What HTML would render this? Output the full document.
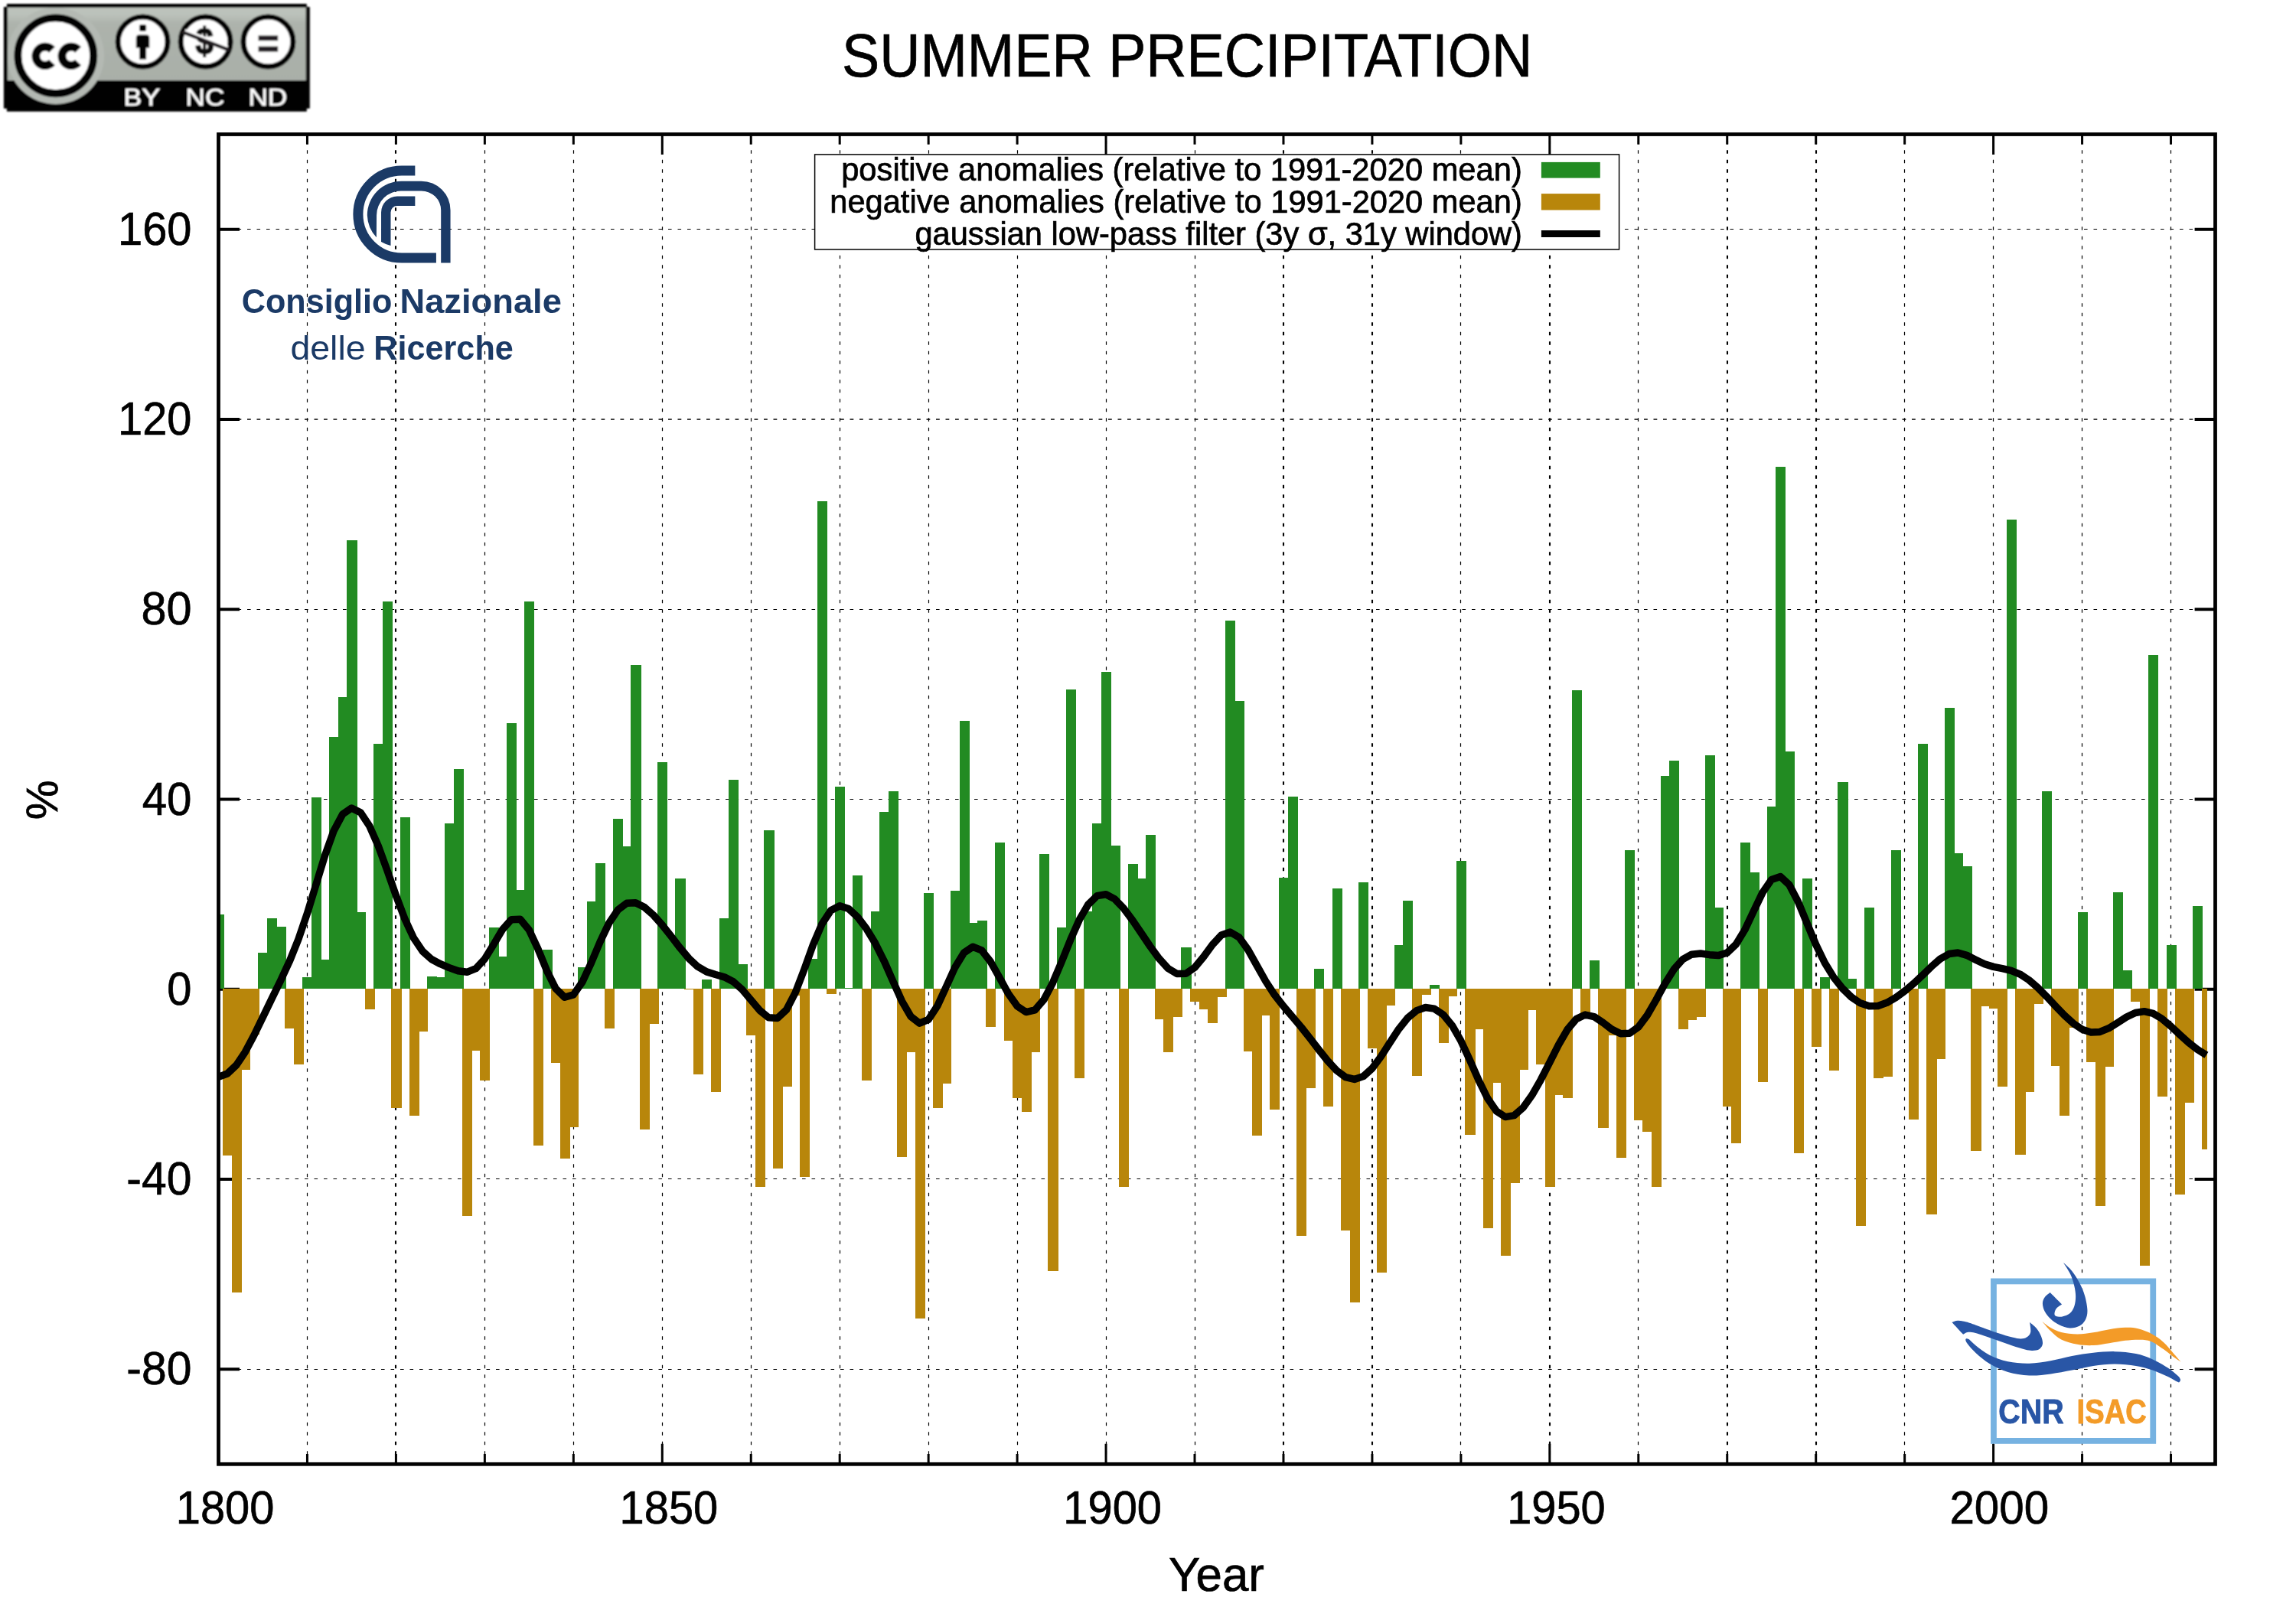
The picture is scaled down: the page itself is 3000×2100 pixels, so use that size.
<!DOCTYPE html>
<html><head><meta charset="utf-8"><title>Summer precipitation</title>
<style>
html,body{margin:0;padding:0;background:#fff;}
body{width:3000px;height:2100px;overflow:hidden;font-family:"Liberation Sans",sans-serif;}
svg{display:block;}
</style></head><body>
<svg width="3000" height="2100" viewBox="0 0 3000 2100">
<rect width="3000" height="2100" fill="#fff"/>
<g opacity="0.998">
<path d="M401.5 1913.3V175.5M633.5 1913.3V175.5M749.5 1913.3V175.5M865.5 1913.3V175.5M981.5 1913.3V175.5M1097.5 1913.3V175.5M1213.5 1913.3V175.5M1329.5 1913.3V175.5M1445.5 1913.3V175.5M1561.5 1913.3V175.5M1908.5 1913.3V175.5M2140.5 1913.3V175.5M2488.5 1913.3V175.5M2604.5 1913.3V175.5M2720.5 1913.3V175.5M2836.5 1913.3V175.5" stroke="#000" stroke-width="1.2" stroke-dasharray="4.5 8" fill="none"/>
<path d="M517 1913.3V175.5M1677 1913.3V175.5M1793 1913.3V175.5M2025 1913.3V175.5M2257 1913.3V175.5M2373 1913.3V175.5" stroke="#000" stroke-width="2.1" stroke-dasharray="4.5 8" fill="none"/>
<path d="M285.5 1789.5H2894.5M285.5 1540.5H2894.5M285.5 1044.5H2894.5M285.5 796.5H2894.5M285.5 299.5H2894.5" stroke="#000" stroke-width="1.1" stroke-dasharray="4.6 7.9" fill="none"/>
<path d="M285.5 548H2894.5" stroke="#000" stroke-width="1.7" stroke-dasharray="4.8 7.7" fill="none"/>
<path d="M285.5 1913.3v-26.6M285.5 175.5v26.6M401.46 1913.3v-13.2M401.46 175.5v13.2M517.41 1913.3v-13.2M517.41 175.5v13.2M633.37 1913.3v-13.2M633.37 175.5v13.2M749.32 1913.3v-13.2M749.32 175.5v13.2M865.28 1913.3v-26.6M865.28 175.5v26.6M981.23 1913.3v-13.2M981.23 175.5v13.2M1097.19 1913.3v-13.2M1097.19 175.5v13.2M1213.14 1913.3v-13.2M1213.14 175.5v13.2M1329.1 1913.3v-13.2M1329.1 175.5v13.2M1445.06 1913.3v-26.6M1445.06 175.5v26.6M1561.01 1913.3v-13.2M1561.01 175.5v13.2M1676.97 1913.3v-13.2M1676.97 175.5v13.2M1792.92 1913.3v-13.2M1792.92 175.5v13.2M1908.88 1913.3v-13.2M1908.88 175.5v13.2M2024.83 1913.3v-26.6M2024.83 175.5v26.6M2140.79 1913.3v-13.2M2140.79 175.5v13.2M2256.74 1913.3v-13.2M2256.74 175.5v13.2M2372.7 1913.3v-13.2M2372.7 175.5v13.2M2488.66 1913.3v-13.2M2488.66 175.5v13.2M2604.61 1913.3v-26.6M2604.61 175.5v26.6M2720.57 1913.3v-13.2M2720.57 175.5v13.2M2836.52 1913.3v-13.2M2836.52 175.5v13.2" stroke="#000" stroke-width="3" fill="none"/>
<path d="M285.5 1789.17h27.5M2894.5 1789.17h-26.9M285.5 1540.91h27.5M2894.5 1540.91h-26.9M285.5 1292.66h27.5M2894.5 1292.66h-26.9M285.5 1044.4h27.5M2894.5 1044.4h-26.9M285.5 796.14h27.5M2894.5 796.14h-26.9M285.5 547.89h27.5M2894.5 547.89h-26.9M285.5 299.63h27.5M2894.5 299.63h-26.9" stroke="#000" stroke-width="4" fill="none"/>
<g transform="translate(440 200) scale(0.09956)" fill="#1B3A66">
<path d="M1028 231.5H853A572.75 572.75 0 0 0 853 1377H1305" fill="none" stroke="#1B3A66" stroke-width="131"/>
<path d="M1492 1442V750A382 382 0 0 0 1110 368H849A449 449 0 0 0 400 817A449 449 0 0 0 521 1108L523 817A320 320 0 0 1 849 497H1110A258 253 0 0 1 1368 750V1442z"/>
<path d="M1028 568H793A210 210 0 0 0 583 778V1165A443 443 0 0 0 708 1215V778A85 85 0 0 1 793 693H1028z"/>
</g>
<text transform="translate(315.87 409) scale(0.9719 1)" font-family="'Liberation Sans', sans-serif" font-size="44.4" font-weight="bold" fill="#1B3A66" >Consiglio</text>
<text transform="translate(522.46 409) scale(1.0203 1)" font-family="'Liberation Sans', sans-serif" font-size="44.4" font-weight="bold" fill="#1B3A66" >Nazionale</text>
<text transform="translate(379.44 470.1) scale(1.0466 1)" font-family="'Liberation Sans', sans-serif" font-size="44.4" fill="#1B3A66" >delle</text>
<text transform="translate(488.29 470.1) scale(0.9735 1)" font-family="'Liberation Sans', sans-serif" font-size="44.4" font-weight="bold" fill="#1B3A66" >Ricerche</text>
<rect x="2604.95" y="1674.4" width="208.3" height="208.5" fill="none" stroke="#76B2E1" stroke-width="7.8"/>
<g transform="translate(2540 1640) scale(0.13937)">
<path d="M1120 72C1133.33 85 1175 118.67 1200 150C1225 181.33 1250 221.67 1270 260C1290 298.33 1307.5 336.67 1320 380C1332.5 423.33 1344.17 481.67 1345 520C1345.83 558.33 1337.5 585.83 1325 610C1312.5 634.17 1294.17 652.5 1270 665C1245.83 677.5 1211.67 686.67 1180 685C1148.33 683.33 1110 669.17 1080 655C1050 640.83 1022.5 620.83 1000 600C977.5 579.17 957.5 555 945 530C932.5 505 924.17 473.33 925 450C925.83 426.67 938.33 406.33 950 390C961.67 373.67 987.5 358.33 995 352C1013.33 370.33 1086.67 443.67 1105 462C1096.67 468.33 1066.33 486.17 1055 500C1043.67 513.83 1038.17 533 1037 545C1035.83 557 1035.83 566.5 1048 572C1060.17 577.5 1088 582 1110 578C1132 574 1161.33 564.33 1180 548C1198.67 531.67 1212.83 506.33 1222 480C1231.17 453.67 1235 421.67 1235 390C1235 358.33 1230.33 325 1222 290C1213.67 255 1202 216.33 1185 180C1168 143.67 1130.83 90 1120 72z" fill="#2956A6"/>
<path d="M75 632C84.17 629.33 107.5 616.67 130 616C152.5 615.33 181.67 621 210 628C238.33 635 251.67 641 300 658C348.33 675 443.33 711 500 730C556.67 749 603.33 762.67 640 772C676.67 781.33 697.5 786 720 786C742.5 786 759.67 782.17 775 772C790.33 761.83 807 748.33 812 725C817 701.67 806.17 647.5 805 632C815.83 641.67 852.17 667.83 870 690C887.83 712.17 902.83 740.83 912 765C921.17 789.17 927.83 815.5 925 835C922.17 854.5 910.83 871.83 895 882C879.17 892.17 852.5 895.33 830 896C807.5 896.67 791.67 893.67 760 886C728.33 878.33 683.33 864.33 640 850C596.67 835.67 543.33 815.33 500 800C456.67 784.67 415 769.67 380 758C345 746.33 316.67 735.67 290 730C263.33 724.33 238.33 721.5 220 724C201.67 726.5 186.67 741.5 180 745C162.5 726.17 92.5 650.83 75 632z" fill="#2956A6"/>
<path d="M203 792C204.67 784.5 215.83 780.33 232 790C248.17 799.67 267 825 300 850C333 875 380 915 430 940C480 965 538.33 987.17 600 1000C661.67 1012.83 733.33 1018.33 800 1017C866.67 1015.67 933.33 1003.67 1000 992C1066.67 980.33 1133.33 959.5 1200 947C1266.67 934.5 1333.33 924 1400 917C1466.67 910 1533.33 903.67 1600 905C1666.67 906.33 1741.67 913.33 1800 925C1858.33 936.67 1900 952.83 1950 975C2000 997.17 2060 1032.17 2100 1058C2140 1083.83 2170.67 1112.17 2190 1130C2209.33 1147.83 2212.67 1155.33 2216 1165C2219.33 1174.67 2214.33 1183.83 2210 1188C2205.67 1192.17 2208.33 1198 2190 1190C2171.67 1182 2140 1158.67 2100 1140C2060 1121.33 2000 1094.67 1950 1078C1900 1061.33 1858.33 1049.33 1800 1040C1741.67 1030.67 1666.67 1022 1600 1022C1533.33 1022 1466.67 1030.33 1400 1040C1333.33 1049.67 1266.67 1067.5 1200 1080C1133.33 1092.5 1066.67 1106.67 1000 1115C933.33 1123.33 866.67 1133 800 1130C733.33 1127 661.67 1115.33 600 1097C538.33 1078.67 480 1049.5 430 1020C380 990.5 334.67 950.83 300 920C265.33 889.17 238.17 856.33 222 835C205.83 813.67 201.33 799.5 203 792z" fill="#2956A6"/>
<path d="M920 622C933.33 632 970 664.83 1000 682C1030 699.17 1058.33 715 1100 725C1141.67 735 1200 741.67 1250 742C1300 742.33 1350 734.5 1400 727C1450 719.5 1500 704.83 1550 697C1600 689.17 1655 681.17 1700 680C1745 678.83 1778.33 680 1820 690C1861.67 700 1910 718.33 1950 740C1990 761.67 2026.67 790 2060 820C2093.33 850 2123 889.5 2150 920C2177 950.5 2210 989.17 2222 1003C2210 995 2177 974.67 2150 955C2123 935.33 2093.33 908.33 2060 885C2026.67 861.67 1985 830 1950 815C1915 800 1891.67 797.17 1850 795C1808.33 792.83 1750 796.67 1700 802C1650 807.33 1600 819.5 1550 827C1500 834.5 1450 845.17 1400 847C1350 848.83 1300 847.17 1250 838C1200 828.83 1141.67 813 1100 792C1058.33 771 1030 740.33 1000 712C970 683.67 933.33 637 920 622z" fill="#F39B28"/>
</g>
<text transform="translate(2611.32 1860) scale(0.9033 1)" font-family="'Liberation Sans', sans-serif" font-size="43.6" font-weight="bold" fill="#2956A6" stroke="#2956A6" stroke-width="0.9" stroke-linejoin="round">CNR</text>
<text transform="translate(2713.62 1860) scale(0.8745 1)" font-family="'Liberation Sans', sans-serif" font-size="43.6" font-weight="bold" fill="#F39B28" stroke="#F39B28" stroke-width="0.9" stroke-linejoin="round">ISAC</text>
<path d="M285.5 1292V1194.56H292.6V1292zM337.48 1292V1245.45H350.58V1292zM349.08 1292V1199.52H362.17V1292zM360.67 1292V1211.32H373.77V1292zM395.46 1292V1277.1H408.55V1292zM407.05 1292V1041.88H420.15V1292zM418.65 1292V1254.14H431.74V1292zM430.24 1292V963.06H443.34V1292zM441.84 1292V910.93H454.94V1292zM453.44 1292V706.12H466.53V1292zM465.03 1292V1192.08H478.13V1292zM488.22 1292V971.75H501.32V1292zM499.82 1292V786.18H512.91V1292zM523.01 1292V1067.95H536.1V1292zM557.8 1292V1275.86H570.89V1292zM569.39 1292V1277.1H582.49V1292zM580.99 1292V1076.02H594.08V1292zM592.58 1292V1004.64H605.68V1292zM638.96 1292V1211.94H652.06V1292zM650.56 1292V1249.8H663.66V1292zM662.16 1292V945.06H675.25V1292zM673.75 1292V1162.91H686.85V1292zM685.35 1292V786.18H698.44V1292zM708.54 1292V1241.11H721.63V1292zM754.92 1292V1264.07H768.02V1292zM766.52 1292V1177.8H779.61V1292zM778.11 1292V1128.15H791.21V1292zM801.3 1292V1070.43H814.4V1292zM812.9 1292V1106.43H825.99V1292zM824.49 1292V869.34H837.59V1292zM859.28 1292V995.95H872.38V1292zM870.88 1292V1223.73H883.97V1292zM882.47 1292V1148.01H895.57V1292zM917.26 1292V1280.21H930.35V1292zM940.45 1292V1199.52H953.54V1292zM952.04 1292V1018.92H965.14V1292zM963.64 1292V1260.35H976.74V1292zM998.43 1292V1084.71H1011.52V1292zM1056.4 1292V1252.9H1069.5V1292zM1068 1292V654.6H1081.1V1292zM1091.19 1292V1027.61H1104.29V1292zM1102.79 1292V1290.76H1115.88V1292zM1114.38 1292V1143.67H1127.48V1292zM1137.57 1292V1190.84H1150.67V1292zM1149.17 1292V1060.5H1162.26V1292zM1160.76 1292V1033.81H1173.86V1292zM1207.15 1292V1166.63H1220.24V1292zM1241.93 1292V1164.15H1255.03V1292zM1253.53 1292V941.96H1266.62V1292zM1265.12 1292V1205.73H1278.22V1292zM1276.72 1292V1202.63H1289.82V1292zM1299.91 1292V1101.46H1313.01V1292zM1357.89 1292V1116.36H1370.98V1292zM1381.08 1292V1211.94H1394.18V1292zM1392.68 1292V901H1405.77V1292zM1415.87 1292V1190.84H1428.96V1292zM1427.46 1292V1076.02H1440.56V1292zM1439.06 1292V878.03H1452.15V1292zM1450.65 1292V1104.57H1463.75V1292zM1473.84 1292V1128.77H1486.94V1292zM1485.44 1292V1148.01H1498.54V1292zM1497.04 1292V1090.91H1510.13V1292zM1543.42 1292V1238H1556.51V1292zM1601.4 1292V811H1614.49V1292zM1612.99 1292V915.89H1626.09V1292zM1670.97 1292V1146.77H1684.06V1292zM1682.56 1292V1040.64H1695.66V1292zM1717.35 1292V1265.93H1730.45V1292zM1740.54 1292V1161.04H1753.64V1292zM1775.33 1292V1152.98H1788.42V1292zM1821.71 1292V1234.9H1834.81V1292zM1833.31 1292V1176.56H1846.4V1292zM1868.09 1292V1287.03H1881.19V1292zM1902.88 1292V1125.05H1915.98V1292zM2053.62 1292V901.62H2066.72V1292zM2076.81 1292V1254.76H2089.91V1292zM2123.2 1292V1111.39H2136.29V1292zM2169.58 1292V1013.95H2182.67V1292zM2181.17 1292V994.09H2194.27V1292zM2227.56 1292V986.65H2240.65V1292zM2239.15 1292V1185.87H2252.25V1292zM2273.94 1292V1100.84H2287.03V1292zM2285.53 1292V1139.94H2298.63V1292zM2308.72 1292V1053.67H2321.82V1292zM2320.32 1292V609.92H2333.42V1292zM2331.92 1292V981.68H2345.01V1292zM2355.11 1292V1148.01H2368.2V1292zM2378.3 1292V1277.1H2391.39V1292zM2401.49 1292V1022.02H2414.58V1292zM2413.08 1292V1278.97H2426.18V1292zM2436.28 1292V1185.87H2449.37V1292zM2471.06 1292V1111.39H2484.16V1292zM2505.85 1292V971.75H2518.94V1292zM2540.64 1292V924.58H2553.73V1292zM2552.23 1292V1115.12H2565.33V1292zM2563.83 1292V1131.87H2576.92V1292zM2621.8 1292V678.81H2634.9V1292zM2668.19 1292V1033.81H2681.28V1292zM2714.57 1292V1192.08H2727.66V1292zM2760.95 1292V1166.01H2774.05V1292zM2772.55 1292V1267.8H2785.64V1292zM2807.33 1292V855.69H2820.43V1292zM2830.52 1292V1234.9H2843.62V1292zM2865.31 1292V1184.01H2878.41V1292z" fill="#228B22" shape-rendering="crispEdges"/>
<path d="M291.1 1292V1509.84H304.19V1292zM302.69 1292V1689.21H315.79V1292zM314.29 1292V1398.13H327.38V1292zM325.88 1292V1352.2H338.98V1292zM372.27 1292V1343.51H385.36V1292zM383.86 1292V1391.3H396.96V1292zM476.63 1292V1319.31H489.72V1292zM511.41 1292V1447.78H524.51V1292zM534.6 1292V1457.71H547.7V1292zM546.2 1292V1348.48H559.3V1292zM604.18 1292V1589.29H617.27V1292zM615.77 1292V1373.3H628.87V1292zM627.37 1292V1411.78H640.46V1292zM696.94 1292V1497.43H710.04V1292zM720.13 1292V1388.82H733.23V1292zM731.73 1292V1514.19H744.82V1292zM743.32 1292V1472.61H756.42V1292zM789.71 1292V1343.51H802.8V1292zM836.09 1292V1476.33H849.18V1292zM847.68 1292V1337.93H860.78V1292zM894.07 1292V1293.24H907.16V1292zM905.66 1292V1403.72H918.76V1292zM928.85 1292V1426.68H941.95V1292zM975.24 1292V1352.82H988.33V1292zM986.83 1292V1550.81H999.93V1292zM1010.02 1292V1527.22H1023.12V1292zM1021.62 1292V1420.47H1034.71V1292zM1033.21 1292V1300.69H1046.31V1292zM1044.81 1292V1537.77H1057.9V1292zM1079.6 1292V1298.83H1092.69V1292zM1125.98 1292V1412.4H1139.07V1292zM1172.36 1292V1511.71H1185.46V1292zM1183.96 1292V1374.55H1197.05V1292zM1195.55 1292V1723.34H1208.65V1292zM1218.74 1292V1447.78H1231.84V1292zM1230.34 1292V1416.13H1243.43V1292zM1288.32 1292V1341.65H1301.41V1292zM1311.51 1292V1359.65H1324.6V1292zM1323.1 1292V1434.75H1336.2V1292zM1334.7 1292V1452.75H1347.79V1292zM1346.29 1292V1374.55H1359.39V1292zM1369.48 1292V1661.28H1382.58V1292zM1404.27 1292V1409.3H1417.37V1292zM1462.25 1292V1551.43H1475.34V1292zM1508.63 1292V1332.34H1521.73V1292zM1520.23 1292V1374.55H1533.32V1292zM1531.82 1292V1329.24H1544.92V1292zM1555.01 1292V1308.76H1568.11V1292zM1566.61 1292V1318.69H1579.7V1292zM1578.2 1292V1337.31H1591.3V1292zM1589.8 1292V1302.55H1602.9V1292zM1624.59 1292V1373.92H1637.68V1292zM1636.18 1292V1484.4H1649.28V1292zM1647.78 1292V1327.38H1660.87V1292zM1659.37 1292V1450.26H1672.47V1292zM1694.16 1292V1614.73H1707.26V1292zM1705.76 1292V1421.71H1718.85V1292zM1728.95 1292V1445.92H1742.04V1292zM1752.14 1292V1607.91H1765.23V1292zM1763.73 1292V1701.62H1776.83V1292zM1786.92 1292V1369.58H1800.02V1292zM1798.52 1292V1662.52H1811.62V1292zM1810.12 1292V1313.72H1823.21V1292zM1844.9 1292V1405.58H1858V1292zM1856.5 1292V1300.07H1869.59V1292zM1879.69 1292V1363.37H1892.78V1292zM1891.28 1292V1301.93H1904.38V1292zM1914.48 1292V1482.54H1927.57V1292zM1926.07 1292V1344.75H1939.17V1292zM1937.67 1292V1604.8H1950.76V1292zM1949.26 1292V1414.89H1962.36V1292zM1960.86 1292V1640.8H1973.95V1292zM1972.45 1292V1545.84H1985.55V1292zM1984.05 1292V1398.13H1997.14V1292zM1995.64 1292V1319.93H2008.74V1292zM2007.24 1292V1391.3H2020.34V1292zM2018.84 1292V1550.81H2031.93V1292zM2030.43 1292V1431.02H2043.53V1292zM2042.03 1292V1434.75H2055.12V1292zM2065.22 1292V1328H2078.31V1292zM2088.41 1292V1473.85H2101.5V1292zM2100 1292V1352.82H2113.1V1292zM2111.6 1292V1512.95H2124.7V1292zM2134.79 1292V1463.92H2147.89V1292zM2146.39 1292V1479.43H2159.48V1292zM2157.98 1292V1550.81H2171.08V1292zM2192.77 1292V1345.38H2205.86V1292zM2204.36 1292V1332.96H2217.46V1292zM2215.96 1292V1328.62H2229.06V1292zM2250.75 1292V1445.92H2263.84V1292zM2262.34 1292V1494.33H2275.44V1292zM2297.13 1292V1414.27H2310.22V1292zM2343.51 1292V1507.36H2356.61V1292zM2366.7 1292V1367.72H2379.8V1292zM2389.89 1292V1398.75H2402.99V1292zM2424.68 1292V1601.7H2437.78V1292zM2447.87 1292V1409.3H2460.97V1292zM2459.47 1292V1407.44H2472.56V1292zM2482.66 1292V1298.21H2495.75V1292zM2494.25 1292V1462.68H2507.35V1292zM2517.44 1292V1587.42H2530.54V1292zM2529.04 1292V1383.85H2542.14V1292zM2575.42 1292V1503.64H2588.52V1292zM2587.02 1292V1314.96H2600.11V1292zM2598.61 1292V1318.07H2611.71V1292zM2610.21 1292V1420.47H2623.3V1292zM2633.4 1292V1509.22H2646.5V1292zM2645 1292V1426.68H2658.09V1292zM2656.59 1292V1312.48H2669.69V1292zM2679.78 1292V1393.16H2692.88V1292zM2691.38 1292V1457.71H2704.47V1292zM2702.97 1292V1342.89H2716.07V1292zM2726.16 1292V1387.58H2739.26V1292zM2737.76 1292V1575.63H2750.86V1292zM2749.36 1292V1394.41H2762.45V1292zM2784.14 1292V1308.76H2797.24V1292zM2795.74 1292V1653.83H2808.83V1292zM2818.93 1292V1432.89H2832.02V1292zM2842.12 1292V1560.74H2855.22V1292zM2853.72 1292V1440.95H2866.81V1292zM2877.1 1292V1502.4H2883.9V1292z" fill="#B8860B" shape-rendering="crispEdges"/>
<path d="M285.5 1407.34L297.1 1403.05L308.69 1392.06L320.29 1374.83L331.88 1353.05L343.48 1329.15L355.07 1305.15L366.67 1281.41L378.26 1256.36L389.86 1227.55L401.46 1193.56L413.05 1155.59L424.65 1117.67L436.24 1085.4L447.84 1063.86L459.43 1055.93L471.03 1061.69L482.62 1079.19L494.22 1105.42L505.82 1137.02L517.41 1170.25L529.01 1201.07L540.6 1225.94L552.2 1243.13L563.79 1253.45L575.39 1259.7L586.98 1264.6L598.58 1268.82L610.18 1270.3L621.77 1265.7L633.37 1253.13L644.96 1234.27L656.56 1214.66L668.15 1201.67L679.75 1201.25L691.34 1215.21L702.94 1240.11L714.54 1268.55L726.13 1291.86L737.73 1303.25L749.32 1299.88L760.92 1283.29L772.51 1258.23L784.11 1230.74L795.7 1206.4L807.3 1189.04L818.9 1180.29L830.49 1179.72L842.09 1185.57L853.68 1195.78L865.28 1208.76L876.87 1223.41L888.47 1238.55L900.06 1252.42L911.66 1263.17L923.26 1269.87L934.85 1273.52L946.45 1276.81L958.04 1282.78L969.64 1293.05L981.23 1306.73L992.83 1320.51L1004.42 1329.85L1016.02 1330.4L1027.62 1319.47L1039.21 1297.16L1050.81 1266.88L1062.4 1234.69L1074 1207.33L1085.59 1189.83L1097.19 1183.77L1108.78 1187.57L1120.38 1198.21L1131.98 1213.42L1143.57 1232.57L1155.17 1255.79L1166.76 1282.09L1178.36 1308.04L1189.95 1328.2L1201.55 1337.21L1213.14 1332.28L1224.74 1314.65L1236.34 1289.45L1247.93 1263.9L1259.53 1244.95L1271.12 1237.22L1282.72 1241.86L1294.31 1256.74L1305.91 1277.43L1317.5 1298.5L1329.1 1314.84L1340.7 1322.6L1352.29 1319.77L1363.89 1306.42L1375.48 1284.43L1387.08 1257.02L1398.67 1228.17L1410.27 1201.97L1421.86 1182.01L1433.46 1170.69L1445.06 1168.7L1456.65 1174.92L1468.25 1187.08L1479.84 1202.67L1491.44 1219.78L1503.03 1236.99L1514.63 1252.84L1526.22 1265.43L1537.82 1272.53L1549.42 1272.33L1561.01 1264.38L1572.61 1250.4L1584.2 1234.42L1595.8 1221.95L1607.39 1218.01L1618.99 1224.83L1630.58 1240.84L1642.18 1261.57L1653.78 1282.23L1665.37 1300.04L1676.97 1314.94L1688.56 1328.47L1700.16 1342.24L1711.75 1356.88L1723.35 1372.01L1734.94 1386.58L1746.54 1399.05L1758.14 1407.6L1769.73 1410.48L1781.33 1406.61L1792.92 1396.11L1804.52 1380.49L1816.11 1362.34L1827.71 1344.72L1839.3 1330.27L1850.9 1320.64L1862.5 1316.54L1874.09 1318.17L1885.69 1325.84L1897.28 1339.91L1908.88 1360.21L1920.47 1385.19L1932.07 1411.63L1943.66 1435.25L1955.26 1452.06L1966.86 1459.61L1978.45 1457.61L1990.05 1447.49L2001.64 1431.33L2013.24 1411.03L2024.83 1388.33L2036.43 1365.44L2048.02 1345.42L2059.62 1331.59L2071.22 1326.06L2082.81 1328.55L2094.41 1336.31L2106 1345.13L2117.6 1350.82L2129.19 1350.3L2140.79 1342.11L2152.38 1326.72L2163.98 1306.5L2175.58 1285.18L2187.17 1266.65L2198.77 1253.7L2210.36 1247.17L2221.96 1246L2233.55 1247.66L2245.15 1248.6L2256.74 1245.03L2268.34 1233.99L2279.94 1214.86L2291.53 1190.32L2303.13 1166.16L2314.72 1149.42L2326.32 1145.6L2337.91 1156.29L2349.51 1178.56L2361.1 1206.59L2372.7 1234.4L2384.3 1258.23L2395.89 1277.11L2407.49 1291.75L2419.08 1302.99L2430.68 1310.85L2442.27 1314.76L2453.87 1314.42L2465.46 1310.31L2477.06 1303.54L2488.66 1295.09L2500.25 1285.4L2511.85 1274.59L2523.44 1263.29L2535.04 1253.17L2546.63 1246.55L2558.23 1245.04L2569.82 1248.32L2581.42 1254.14L2593.02 1259.68L2604.61 1263.38L2616.21 1265.67L2627.8 1268.32L2639.4 1273.06L2650.99 1280.61L2662.59 1290.64L2674.18 1302.31L2685.78 1314.67L2697.38 1326.73L2708.97 1337.34L2720.57 1345.18L2732.16 1349.05L2743.76 1348.41L2755.35 1343.71L2766.95 1336.5L2778.54 1329.01L2790.14 1323.48L2801.74 1321.66L2813.33 1324.35L2824.93 1331.26L2836.52 1341.09L2848.12 1352.04L2859.71 1362.49L2871.31 1371.48L2882.9 1378.77" stroke="#000" stroke-width="9.5" fill="none" stroke-linejoin="round" stroke-linecap="butt"/>
<rect x="285.5" y="175.5" width="2609" height="1737.8" fill="none" stroke="#000" stroke-width="4.8"/>
<rect x="1064.6" y="201.9" width="1051" height="124.1" fill="#fff" stroke="#000" stroke-width="1.5"/>
<text transform="translate(1099.19 235.5) scale(0.9972 1)" font-family="'Liberation Sans', sans-serif" font-size="41.8" fill="#000" stroke="#000" stroke-width="0.7">positive anomalies (relative to 1991-2020 mean)</text>
<text transform="translate(1084.29 277.8) scale(0.9957 1)" font-family="'Liberation Sans', sans-serif" font-size="41.8" fill="#000" stroke="#000" stroke-width="0.7">negative anomalies (relative to 1991-2020 mean)</text>
<text transform="translate(1195.44 319.7) scale(0.9957 1)" font-family="'Liberation Sans', sans-serif" font-size="41.8" fill="#000" stroke="#000" stroke-width="0.7">gaussian low-pass filter (3y σ, 31y window)</text>
<rect x="2013.9" y="211.9" width="76.9" height="20.7" fill="#228B22"/>
<rect x="2013.9" y="253.1" width="76.9" height="21.4" fill="#B8860B"/>
<path d="M2013.9 305.5H2090.8" stroke="#000" stroke-width="8.8"/>
<text transform="translate(165.35 1809.37) scale(0.9723 1)" font-family="'Liberation Sans', sans-serif" font-size="60.5" fill="#000" stroke="#000" stroke-width="0.7">-80</text>
<text transform="translate(165.35 1561.11) scale(0.9723 1)" font-family="'Liberation Sans', sans-serif" font-size="60.5" fill="#000" stroke="#000" stroke-width="0.7">-40</text>
<text transform="translate(218.18 1312.86) scale(0.9569 1)" font-family="'Liberation Sans', sans-serif" font-size="60.5" fill="#000" stroke="#000" stroke-width="0.7">0</text>
<text transform="translate(185.64 1064.6) scale(0.9633 1)" font-family="'Liberation Sans', sans-serif" font-size="60.5" fill="#000" stroke="#000" stroke-width="0.7">40</text>
<text transform="translate(184.43 816.34) scale(0.9821 1)" font-family="'Liberation Sans', sans-serif" font-size="60.5" fill="#000" stroke="#000" stroke-width="0.7">80</text>
<text transform="translate(154.06 568.09) scale(0.9555 1)" font-family="'Liberation Sans', sans-serif" font-size="60.5" fill="#000" stroke="#000" stroke-width="0.7">120</text>
<text transform="translate(154.06 319.83) scale(0.9555 1)" font-family="'Liberation Sans', sans-serif" font-size="60.5" fill="#000" stroke="#000" stroke-width="0.7">160</text>
<text transform="translate(229.81 1991.2) scale(0.9557 1)" font-family="'Liberation Sans', sans-serif" font-size="60.5" fill="#000" stroke="#000" stroke-width="0.7">1800</text>
<text transform="translate(809.59 1991.2) scale(0.9557 1)" font-family="'Liberation Sans', sans-serif" font-size="60.5" fill="#000" stroke="#000" stroke-width="0.7">1850</text>
<text transform="translate(1389.37 1991.2) scale(0.9557 1)" font-family="'Liberation Sans', sans-serif" font-size="60.5" fill="#000" stroke="#000" stroke-width="0.7">1900</text>
<text transform="translate(1969.15 1991.2) scale(0.9557 1)" font-family="'Liberation Sans', sans-serif" font-size="60.5" fill="#000" stroke="#000" stroke-width="0.7">1950</text>
<text transform="translate(2547.38 1991.2) scale(0.9646 1)" font-family="'Liberation Sans', sans-serif" font-size="60.5" fill="#000" stroke="#000" stroke-width="0.7">2000</text>
<text transform="translate(1527.06 2078.9) scale(0.9915 1)" font-family="'Liberation Sans', sans-serif" font-size="62.3" fill="#000" stroke="#000" stroke-width="0.7">Year</text>
<text id="ylabel" transform="translate(75,1045.3) rotate(-90)" font-family="'Liberation Sans', sans-serif" font-size="58.2" text-anchor="middle" stroke="#000" stroke-width="0.7">%</text>
<text transform="translate(1100.08 99.9) scale(0.9272 1)" font-family="'Liberation Sans', sans-serif" font-size="79.5" fill="#000" stroke="#000" stroke-width="0.7">SUMMER PRECIPITATION</text>
<defs><filter id="ccblur" x="-5%" y="-5%" width="110%" height="110%"><feGaussianBlur stdDeviation="1.25"/></filter><linearGradient id="ccg" x1="0" y1="0" x2="0" y2="1"><stop offset="0" stop-color="#bdc3bc"/><stop offset="0.1" stop-color="#bbc1ba"/><stop offset="0.22" stop-color="#adb3ac"/><stop offset="1" stop-color="#a9afa8"/></linearGradient><radialGradient id="cch" cx="73" cy="72" r="120" gradientUnits="userSpaceOnUse"><stop offset="0.5" stop-color="#cdd2cc" stop-opacity="0.9"/><stop offset="1" stop-color="#cdd2cc" stop-opacity="0"/></radialGradient><clipPath id="ccclip"><rect x="9.9" y="9.9" width="389.8" height="131"/></clipPath><clipPath id="ccclip2"><rect x="9.9" y="9.9" width="389.8" height="95.2"/></clipPath></defs>
<g filter="url(#ccblur)">
<path d="M8.9 4.9H400.8V8.9H404.8V141.7H400.8V145.7H8.9V141.7H4.9V8.9H8.9z" fill="#000"/>
<rect x="9.9" y="9.9" width="389.8" height="95.2" fill="url(#ccg)"/>
<circle cx="72.8" cy="72.8" r="63.2" fill="#b4b9b3" clip-path="url(#ccclip)"/>
<circle cx="72.8" cy="72.8" r="49.45" fill="#fff" stroke="#000" stroke-width="9.9"/>
<path d="M68 65A12.2 12.2 0 1 0 68 81.6" fill="none" stroke="#000" stroke-width="10.8"/>
<path d="M102.1 65A12.2 12.2 0 1 0 102.1 81.6" fill="none" stroke="#000" stroke-width="10.8"/>
<circle cx="186.6" cy="54.5" r="32.45" fill="#fff" stroke="#000" stroke-width="7.1"/>
<circle cx="268.6" cy="54.5" r="32.45" fill="#fff" stroke="#000" stroke-width="7.1"/>
<circle cx="350.4" cy="54.5" r="32.45" fill="#fff" stroke="#000" stroke-width="7.1"/>
<rect x="182.1" y="32.2" width="9" height="8.6" rx="2" fill="#000"/>
<path d="M177.8 49.4a4 4 0 0 1 4-4h9.5a4 4 0 0 1 4 4V62.4h-4.2v15.2h-9V62.4h-4.3z" fill="#000"/>
<text x="267.2" y="70.5" font-family="'Liberation Sans', sans-serif" font-size="49" font-weight="bold" text-anchor="middle" fill="#111" stroke="#111" stroke-width="2.2" transform="translate(267.2 0) scale(0.85 1) translate(-267.2 0)">$</text>
<path d="M241.5 41L297 62.8" stroke="#fff" stroke-width="6.4" fill="none"/>
<path d="M237.8 41.6L299.3 65.3" stroke="#231f20" stroke-width="4.6" fill="none"/>
<rect x="337.6" y="46.4" width="25.6" height="6.8" fill="#231f20"/><rect x="337.6" y="60.6" width="25.6" height="7" fill="#231f20"/>
<text transform="translate(161.21 137.6) scale(1.1387 1)" font-family="'Liberation Sans', sans-serif" font-size="31.7" fill="#fff" stroke="#fff" stroke-width="0.5">BY</text>
<text transform="translate(242.59 137.6) scale(1.1089 1)" font-family="'Liberation Sans', sans-serif" font-size="31.7" fill="#fff" stroke="#fff" stroke-width="0.5">NC</text>
<text transform="translate(324.38 137.6) scale(1.1131 1)" font-family="'Liberation Sans', sans-serif" font-size="31.7" fill="#fff" stroke="#fff" stroke-width="0.5">ND</text>
</g>
</g>
</svg>
</body></html>
